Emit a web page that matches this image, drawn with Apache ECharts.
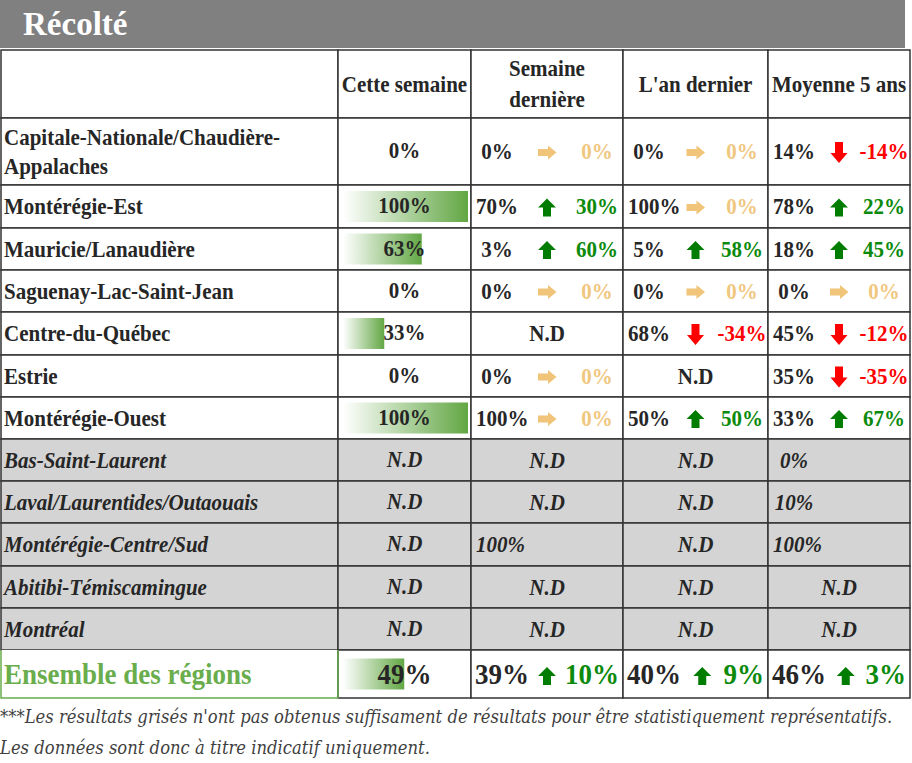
<!DOCTYPE html>
<html>
<head>
<meta charset="utf-8">
<script src="https://cdn.jsdelivr.net/npm/echarts@6/dist/echarts.min.js"></script>
<style>
  html, body { margin: 0; padding: 0; background: #fff; }
  #main { width: 912px; height: 763px; }
</style>
</head>
<body>
<div id="main"></div>
<script>
// ---- data ----
const titleText = 'Récolté';
const headers = ['', 'Cette semaine', 'Semaine\ndernière', "L'an dernier", 'Moyenne 5 ans'];
const regions = [
  'Capitale-Nationale/Chaudière-\nAppalaches',
  'Montérégie-Est',
  'Mauricie/Lanaudière',
  'Saguenay-Lac-Saint-Jean',
  'Centre-du-Québec',
  'Estrie',
  'Montérégie-Ouest',
  'Bas-Saint-Laurent',
  'Laval/Laurentides/Outaouais',
  'Montérégie-Centre/Sud',
  'Abitibi-Témiscamingue',
  'Montréal',
  'Ensemble des régions'
];
// grey rows: not enough results to be representative
const lowSample = [false, false, false, false, false, false, false, true, true, true, true, true, false];
// null = N.D
const thisWeek = [0, 100, 63, 0, 33, 0, 100, null, null, null, null, null, 49];
const lastWeek = [0, 70, 3, 0, null, 0, 100, null, null, 100, null, null, 39];
const lastWeekDiff = [0, 30, 60, 0, null, 0, 0, null, null, null, null, null, 10];
const lastYear = [0, 100, 5, 0, 68, null, 50, null, null, null, null, null, 40];
const lastYearDiff = [0, 0, 58, 0, -34, null, 50, null, null, null, null, null, 9];
const avg5 = [14, 78, 18, 0, 45, 35, 33, 0, 10, 100, null, null, 46];
const avg5Diff = [-14, 22, 45, 0, -12, -35, 67, null, null, null, null, null, 3];
const noteLines = [
  "***Les résultats grisés n'ont pas obtenus suffisament de résultats pour être statistiquement représentatifs.",
  'Les données sont donc à titre indicatif uniquement.'
];

const compareCols = [lastWeek, lastYear, avg5];
const compareDiffs = [lastWeekDiff, lastYearDiff, avg5Diff];

// ---- layout / style ----
const colEdges = [1, 338, 471, 623, 768, 910];
const rowEdges = [50, 118, 185, 228, 270, 312, 355, 397, 439, 481, 523, 566, 608, 650, 698];
const SERIF = '"Liberation Serif", "Times New Roman", serif';
const NOTE_FONT = 'italic 19px "DejaVu Serif", serif';
const NOTE_WIDTH = 893;
const BODY = 21, TOTAL = 27, STRETCH = 1.1;
const INK = '#262626', RULE = '#333333', GREY_ROW = '#d4d4d4', TOTAL_GREEN = '#6aad4c';
const UP_TXT = '#0c8a0c', UP_ARROW = '#007d00', DOWN = '#ff0000', FLAT_TXT = '#f0c77f', FLAT_ARROW = '#f0c479';

const measureCtx = document.createElement('canvas').getContext('2d');
function textWidth(t, f) { measureCtx.font = f; return measureCtx.measureText(t).width; }

function font(size, bold, italic) {
  return (italic ? 'italic ' : '') + (bold ? 'bold ' : '') + size + 'px ' + SERIF;
}

function txt(x, y, text, opt) {
  return {
    type: 'text', x: x, y: y, scaleY: opt.stretch || STRETCH,
    style: {
      text: text, fill: opt.color || INK, font: opt.font,
      align: opt.align || 'center', verticalAlign: 'middle',
      lineHeight: opt.lineHeight
    }
  };
}

function trendColor(d, forArrow) {
  if (d > 0) return forArrow ? UP_ARROW : UP_TXT;
  if (d < 0) return DOWN;
  return forArrow ? FLAT_ARROW : FLAT_TXT;
}

function arrow(cx, cy, d) {
  let pts;
  if (d > 0) {
    const w = 18, h = 18, hh = 9, s = 8, t = cy - h / 2;
    pts = [[cx, t], [cx + w / 2, t + hh], [cx + s / 2, t + hh], [cx + s / 2, t + h],
           [cx - s / 2, t + h], [cx - s / 2, t + hh], [cx - w / 2, t + hh]];
  } else if (d < 0) {
    const w = 17, h = 21, hh = 10, s = 8, b = cy + h / 2;
    pts = [[cx, b], [cx + w / 2, b - hh], [cx + s / 2, b - hh], [cx + s / 2, b - h],
           [cx - s / 2, b - h], [cx - s / 2, b - hh], [cx - w / 2, b - hh]];
  } else {
    pts = [[cx + 9.5, cy], [cx + 1, cy - 7], [cx + 1, cy - 3.5], [cx - 9, cy - 3.5],
           [cx - 9, cy + 3.5], [cx + 1, cy + 3.5], [cx + 1, cy + 7]];
  }
  return {type: 'polygon', shape: {points: pts}, style: {fill: trendColor(d, true)}};
}

function cellBox(api, c, r) {
  const p0 = api.coord([colEdges[c], rowEdges[r]]);
  const p1 = api.coord([colEdges[c + 1], rowEdges[r + 1]]);
  return {x: p0[0], y: p0[1], w: p1[0] - p0[0], h: p1[1] - p0[1]};
}

function cellText(c, r, b) {
  const cy = b.y + b.h / 2;
  if (r === 0) {
    return c === 0 ? [] : [txt(b.x + b.w / 2, cy, headers[c], {font: font(BODY, true), lineHeight: 28})];
  }
  const i = r - 1;
  const total = i === regions.length - 1;
  const low = lowSample[i];
  const f = font(total ? TOTAL : BODY, true, low);
  const st = total ? 1.08 : STRETCH;
  if (c === 0) {
    const out = [txt(b.x + 3, cy, regions[i], {font: f, align: 'left', color: total ? TOTAL_GREEN : INK, lineHeight: 27, stretch: st})];
    if (total) {
      out.push({type: 'polyline', shape: {points: [[b.x, b.y], [b.x, b.y + b.h], [b.x + b.w, b.y + b.h], [b.x + b.w, b.y]]},
                style: {stroke: TOTAL_GREEN, lineWidth: 1.5, fill: null}});
    }
    return out;
  }
  if (c === 1) {
    const v = thisWeek[i];
    return [txt(b.x + b.w / 2, cy - (total ? 0 : 1), v == null ? 'N.D' : v + '%', {font: f, stretch: st})];
  }
  const v = compareCols[c - 2][i], d = compareDiffs[c - 2][i];
  if (v == null) return [txt(b.x + b.w / 2, cy, 'N.D', {font: f, stretch: st})];
  const out = [];
  const vt = v + '%';
  if (total) {
    const dt = d + '%';
    const left = b.x + 4, right = b.x + b.w - 4;
    out.push(txt(left, cy, vt, {font: f, align: 'left', stretch: st}));
    if (d != null) {
      const mid = (left + textWidth(vt, f) + right - textWidth(dt, f)) / 2;
      out.push(arrow(mid, cy + 2, Math.sign(d)));
      out.push(txt(right, cy, dt, {font: f, align: 'right', color: trendColor(d), stretch: st}));
    }
  } else {
    // value sits in a slot near the left edge, never closer than 5px to the rule
    const vx = Math.max(b.x + 26 - textWidth(vt, f) / 2, b.x + 5);
    out.push(txt(vx, cy, vt, {font: f, align: 'left'}));
    if (d != null) {
      out.push(arrow(b.x + b.w / 2, cy + 1, Math.sign(d)));
      out.push(txt(b.x + b.w - 26, cy, d + '%', {font: f, color: trendColor(d)}));
    }
  }
  return out;
}

const cells = [];
for (let r = 0; r < rowEdges.length - 1; r++) {
  for (let c = 0; c < colEdges.length - 1; c++) cells.push([c, r]);
}
const barData = thisWeek.map((v, i) => [v == null ? 0 : v, i + 1]);

const barFill = new echarts.graphic.LinearGradient(0, 0, 1, 0, [
  {offset: 0, color: '#ffffff'},
  {offset: 1, color: '#62a744'}
]);

// squeeze the footnote to the reference line length
const noteScale = NOTE_WIDTH / textWidth(noteLines[0], NOTE_FONT);

const chart = echarts.init(document.getElementById('main'), null, {renderer: 'svg'});
chart.setOption({
  animation: false,
  backgroundColor: '#ffffff',
  grid: [
    {left: 0, right: 0, top: 0, bottom: 0},
    {left: 343, width: 125, top: 0, bottom: 0}
  ],
  xAxis: [
    {type: 'value', min: 0, max: 912, show: false, gridIndex: 0},
    {type: 'value', min: 0, max: 100, show: false, gridIndex: 1}
  ],
  yAxis: [
    {type: 'value', min: 0, max: 763, inverse: true, show: false, gridIndex: 0},
    {type: 'value', min: 0, max: 763, inverse: true, show: false, gridIndex: 1}
  ],
  graphic: [
    {type: 'rect', left: 0, top: 0, shape: {width: 905, height: 48}, style: {fill: '#808080'}, z: 0},
    {type: 'text', left: 23, top: 7, style: {text: titleText, fontWeight: 'bold', fontSize: 33, fontFamily: 'Liberation Serif', fill: '#ffffff'}, z: 1},
    {type: 'text', x: 0, y: 717, scaleX: noteScale, style: {text: noteLines[0], font: NOTE_FONT, fill: '#3f3f3f', verticalAlign: 'middle'}},
    {type: 'text', x: 0, y: 748, scaleX: noteScale, style: {text: noteLines[1], font: NOTE_FONT, fill: '#3f3f3f', verticalAlign: 'middle'}}
  ],
  series: [
    {
      type: 'custom', name: 'cells', xAxisIndex: 0, yAxisIndex: 0, z: 1, silent: true,
      data: cells,
      renderItem: function (params, api) {
        const c = api.value(0), r = api.value(1);
        const b = cellBox(api, c, r);
        const low = r > 0 && lowSample[r - 1];
        const totalLabel = r === rowEdges.length - 2 && c === 0;
        return {
          type: 'rect',
          shape: {x: b.x, y: b.y, width: b.w, height: b.h},
          style: {fill: low ? GREY_ROW : '#ffffff', stroke: totalLabel ? null : RULE, lineWidth: 1.5}
        };
      }
    },
    {
      type: 'custom', name: 'Cette semaine', xAxisIndex: 1, yAxisIndex: 1, z: 2, silent: true,
      data: barData,
      renderItem: function (params, api) {
        const v = api.value(0), r = api.value(1);
        const a = api.coord([0, rowEdges[r]]);
        const e = api.coord([v, rowEdges[r + 1]]);
        const mid = (a[1] + e[1]) / 2;
        return {type: 'rect', shape: {x: a[0], y: mid - 15.5, width: e[0] - a[0], height: 31}, style: {fill: barFill}};
      }
    },
    {
      type: 'custom', name: 'labels', xAxisIndex: 0, yAxisIndex: 0, z: 3, silent: true,
      data: cells,
      renderItem: function (params, api) {
        const c = api.value(0), r = api.value(1);
        return {type: 'group', children: cellText(c, r, cellBox(api, c, r))};
      }
    }
  ]
});
</script>
</body>
</html>
